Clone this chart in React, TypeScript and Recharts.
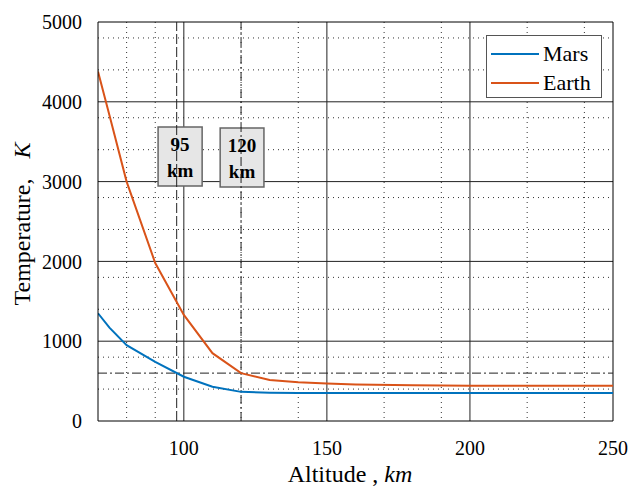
import { LineChart, Line, XAxis, YAxis, CartesianGrid, ReferenceLine, ReferenceArea, Legend } from 'recharts'

// altitude (km) and temperature (K)
const altitudes = [70, 74, 80, 90, 100, 110, 120, 130, 140, 150, 160, 180, 200, 250]
const marsTemp = [1350, 1170, 950, 740, 555, 430, 365, 355, 352, 350, 350, 350, 350, 350]
const earthTemp = [4380, 3830, 3000, 1980, 1330, 850, 600, 514, 485, 470, 458, 448, 443, 443]

const xTicks = [100, 150, 200, 250]
const yTicks = [0, 1000, 2000, 3000, 4000, 5000]
const xMajor = [100, 150, 200]
const yMajor = [1000, 2000, 3000, 4000]
const xMinor = [80, 90, 110, 120, 130, 140, 160, 170, 180, 190, 210, 220, 230, 240]
const yMinor = [200, 400, 600, 800, 1200, 1400, 1600, 1800, 2200, 2400, 2600, 2800,
  3200, 3400, 3600, 3800, 4200, 4400, 4600, 4800]

// crossing altitudes at the 600 K level
const marsCross = 97.5
const earthCross = 120
const crossTemp = 600

const data = altitudes.map((alt, i) => ({ alt, mars: marsTemp[i], earth: earthTemp[i] }))

const FONT = '"Liberation Serif", "Times New Roman", serif'
const MARS = '#0072BD'
const EARTH = '#D95319'

function BoxLabel({ viewBox, top }: any) {
  if (!viewBox) return null
  const cx = viewBox.x + viewBox.width / 2
  const cy = viewBox.y + viewBox.height / 2
  return (
    <g fontFamily={FONT} fontWeight="bold" fontSize={19} fill="#000" textAnchor="middle">
      <text x={cx} y={cy - 6}>{top}</text>
      <text x={cx} y={cy + 20}>km</text>
    </g>
  )
}

function LegendBox() {
  const rows = [
    { name: 'Mars', color: MARS },
    { name: 'Earth', color: EARTH },
  ]
  return (
    <div style={{ width: 114, height: 61, background: '#fff', border: '1px solid #555', fontFamily: FONT, fontSize: 22 }}>
      {rows.map((r) => (
        <div key={r.name} style={{ display: 'flex', alignItems: 'center', height: 29, marginTop: r.name === 'Mars' ? 3 : 0 }}>
          <div style={{ width: 48, height: 2, background: r.color, marginLeft: 4, marginRight: 4 }} />
          <span style={{ lineHeight: '22px' }}>{r.name}</span>
        </div>
      ))}
    </div>
  )
}

export default function App() {
  return (
    <div style={{ position: 'absolute', left: 0, top: 0, width: 630, height: 486, background: '#fff' }}>
      <LineChart width={630} height={486} data={data} margin={{ top: 22, right: 17, left: 0, bottom: 25 }}>
        {/* minor dotted grid */}
        <CartesianGrid
          horizontalValues={yMinor}
          verticalValues={xMinor}
          stroke="#333"
          strokeDasharray="1 4"
        />
        {/* major grid */}
        <CartesianGrid horizontalValues={yMajor} verticalValues={xMajor} stroke="#222" />
        <XAxis
          dataKey="alt"
          type="number"
          domain={[70, 250]}
          ticks={xTicks}
          allowDataOverflow
          tickLine={false}
          axisLine={{ stroke: '#000' }}
          tick={{ fill: '#000', fontSize: 20, fontFamily: FONT }}
          tickMargin={14}
          height={40}
          label={() => (
            <text x={350} y={482} textAnchor="middle" fontFamily={FONT} fontSize={24} fill="#000">
              Altitude , <tspan fontStyle="italic">km</tspan>
            </text>
          )}
        />
        <YAxis
          type="number"
          domain={[0, 5000]}
          ticks={yTicks}
          allowDataOverflow
          width={98}
          tickLine={false}
          axisLine={{ stroke: '#000' }}
          tick={{ fill: '#000', fontSize: 20, fontFamily: FONT }}
          tickMargin={10}
          label={() => (
            <text x={30} y={224} transform="rotate(-90 30 224)" textAnchor="middle" fontFamily={FONT} fontSize={24} fill="#000">
              Temperature,<tspan dx={20} fontStyle="italic">K</tspan>
            </text>
          )}
        />
        <ReferenceLine x={250} stroke="#000" />
        <ReferenceLine y={5000} stroke="#000" />
        <ReferenceLine x={marsCross} stroke="#222" strokeDasharray="10 3" />
        <ReferenceLine x={earthCross} stroke="#222" strokeDasharray="9 3 2 3" />
        <ReferenceLine y={crossTemp} stroke="#222" strokeDasharray="9 3 2 3" />
        <Line type="linear" dataKey="mars" name="Mars" stroke={MARS} strokeWidth={2} dot={false} isAnimationActive={false} />
        <Line type="linear" dataKey="earth" name="Earth" stroke={EARTH} strokeWidth={2} dot={false} isAnimationActive={false} />
        <ReferenceArea
          x1={91}
          x2={106.4}
          y1={2945}
          y2={3684}
          fill="#e6e6e6"
          fillOpacity={1}
          stroke="#666"
          strokeWidth={1.5}
          label={<BoxLabel top="95" />}
        />
        <ReferenceArea
          x1={112.7}
          x2={128}
          y1={2932}
          y2={3672}
          fill="#e6e6e6"
          fillOpacity={1}
          stroke="#666"
          strokeWidth={1.5}
          label={<BoxLabel top="120" />}
        />
        <Legend
          layout="horizontal"
          verticalAlign="middle"
          align="center"
          wrapperStyle={{ left: 486, top: 35, width: 116, height: 63 }}
          content={() => <LegendBox />}
        />
      </LineChart>
    </div>
  )
}
